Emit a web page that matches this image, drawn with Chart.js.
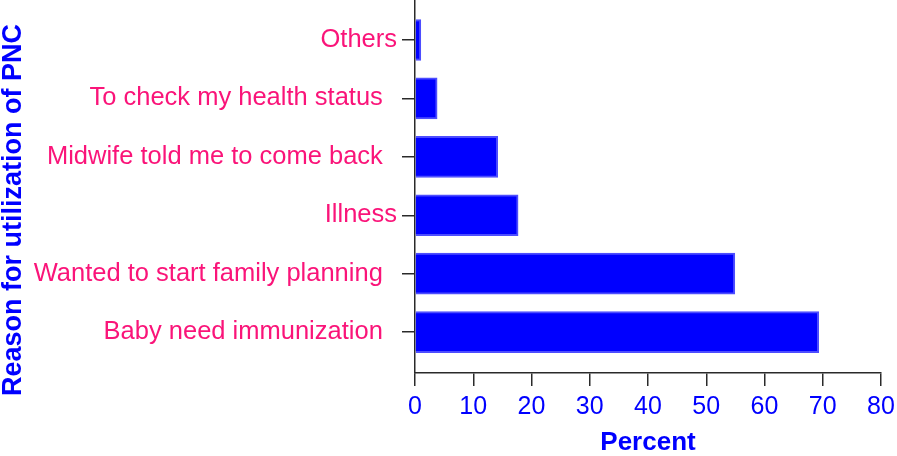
<!DOCTYPE html>
<html>
<head>
<meta charset="utf-8">
<script src="https://cdn.jsdelivr.net/npm/chart.js@4"></script>
<style>
  html, body { margin: 0; padding: 0; background: #ffffff; }
  #wrap { width: 897px; height: 456px; position: relative; }
</style>
</head>
<body>
<div id="wrap"><canvas id="c" width="897" height="456"></canvas></div>
<script>
const categories = [
  "Others",
  "To check my health status  ",
  "Midwife told me to come back  ",
  "Illness",
  "Wanted to start family planning  ",
  "Baby need immunization  "
];
const percentValues = [1.0, 3.8, 14.2, 17.7, 54.9, 69.3];
const xTickValues = [0, 10, 20, 30, 40, 50, 60, 70, 80];
const xAxisTitle = "Percent";
const yAxisTitle = "Reason for utilization of PNC";

const FONT = "'Liberation Sans', Arial, Helvetica, sans-serif";
const BLUE = "#0000ff";
const PINK = "#fa1479";
const AXIS = "#2a2a2a";

const yTitlePlugin = {
  id: 'yTitle',
  afterDraw(chart) {
    const ctx = chart.ctx;
    ctx.save();
    ctx.translate(14, 210);
    ctx.rotate(-Math.PI / 2);
    ctx.font = "bold 27px " + FONT;
    ctx.fillStyle = BLUE;
    ctx.textAlign = 'center';
    ctx.textBaseline = 'middle';
    ctx.fillText(yAxisTitle, 0, 0);
    ctx.restore();
  }
};

new Chart(document.getElementById('c'), {
  type: 'bar',
  data: {
    datasets: [{
      data: percentValues.map((v, i) => ({ x: v, y: i })),
      backgroundColor: BLUE,
      borderColor: '#4d4dff',
      borderWidth: 2,
      barThickness: 41
    }]
  },
  options: {
    indexAxis: 'y',
    responsive: false,
    animation: false,
    events: [],
    layout: { padding: { left: 0, right: 16, top: 0, bottom: 0 } },
    plugins: { legend: { display: false }, tooltip: { enabled: false } },
    scales: {
      x: {
        type: 'linear',
        min: 0,
        max: 80,
        offset: false,
        afterBuildTicks(scale) { scale.ticks = xTickValues.map(v => ({ value: v })); },
        afterFit(scale) { scale.height = 83; scale.paddingLeft = 0; scale.paddingRight = 0; },
        grid: { display: true, offset: false, drawOnChartArea: false, drawTicks: true, tickLength: 13, color: AXIS, lineWidth: 1.5 },
        border: { display: true, color: AXIS, width: 1.5 },
        ticks: { color: BLUE, font: { family: FONT, size: 25 }, padding: 6, maxRotation: 0 },
        title: { display: true, text: xAxisTitle, color: BLUE, font: { family: FONT, size: 26, weight: 'bold', lineHeight: 1 }, padding: { top: 0, bottom: 0 } }
      },
      y: {
        type: 'linear',
        reverse: true,
        min: -0.685,
        max: 5.70,
        offset: false,
        afterBuildTicks(scale) { scale.ticks = categories.map((_, i) => ({ value: i })); },
        afterFit(scale) { scale.width = 415; scale.paddingTop = 0; scale.paddingBottom = 0; },
        grid: { display: true, offset: false, drawOnChartArea: false, drawTicks: true, tickLength: 13, color: AXIS, lineWidth: 1.5 },
        border: { display: true, color: AXIS, width: 1.5 },
        ticks: {
          color: PINK,
          font: { family: FONT, size: 25.5 },
          padding: 5,
          autoSkip: false,
          callback: (v) => categories[v]
        }
      }
    }
  },
  plugins: [yTitlePlugin]
});
</script>
</body>
</html>
